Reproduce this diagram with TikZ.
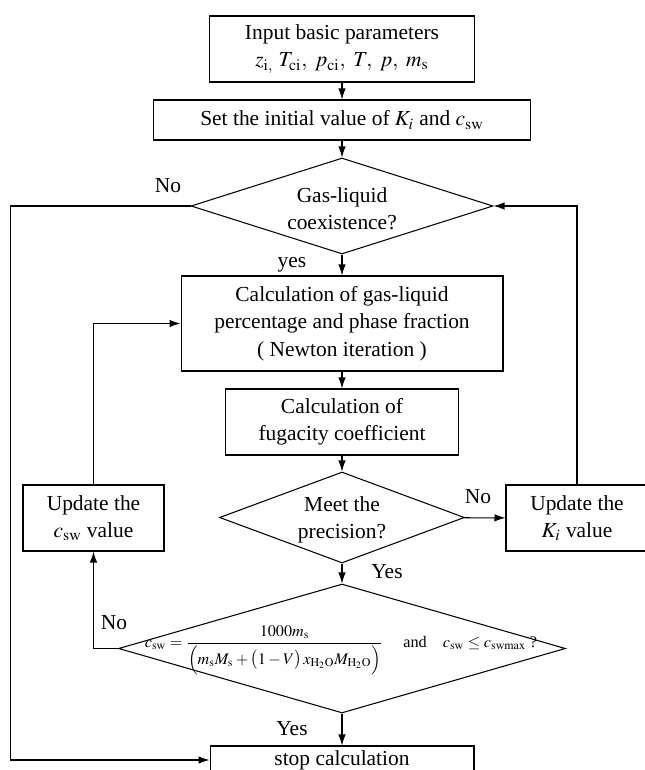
\documentclass[tikz,border=0pt]{standalone}
\usepackage{amsmath}
\usepackage{mathptmx}
\usepackage{fontspec}
\setmainfont{Liberation Serif}
\usetikzlibrary{shapes.geometric,arrows.meta}
\begin{document}
\begin{tikzpicture}[x=0.02cm,y=-0.02cm, line width=0.6pt,
  font=\fontsize{12.2}{15.5}\selectfont,
  box/.style={draw, rectangle, inner sep=0pt, align=center},
  dia/.style={draw, diamond, inner sep=0pt},
  arr/.style={-{Latex[length=2.2mm,width=1.5mm]}},
  lbl/.style={inner sep=1pt}]
\useasboundingbox (0,0) rectangle (645,770);
\clip (0,0) rectangle (645,770);

\node[box, minimum width=5.3cm, minimum height=1.32cm] (b1) at (342,49)
  {Input basic parameters\\ $z_{\mathrm{i,}}\ T_{\mathrm{ci}},\ p_{\mathrm{ci}},\ T,\ p,\ m_{\mathrm{s}}$};
\node[box, minimum width=7.56cm, minimum height=0.8cm] (b2) at (342,120)
  {Set the initial value of $K_i$ and $c_{\mathrm{sw}}$};
\node[dia, minimum width=6.04cm, minimum height=1.92cm] (d1) at (342,206) {};
\node[align=center] (t1) at (342,209) {Gas-liquid\\coexistence?};
\node[box, minimum width=6.44cm, minimum height=1.9cm] (b3) at (342,323.5)
  {Calculation of gas-liquid\\percentage and phase fraction\\( Newton iteration )};
\node[box, minimum width=4.66cm, minimum height=1.32cm] (b4) at (342,422)
  {Calculation of\\fugacity coefficient};
\node[dia, minimum width=4.9cm, minimum height=1.82cm] (d2) at (342,517.5) {};
\node[align=center] (t2) at (342,520) {Meet the\\precision?};
\node[box, minimum width=2.82cm, minimum height=1.32cm] (uc) at (93.5,518)
  {Update the\\$c_{\mathrm{sw}}$ value};
\node[box, minimum width=2.84cm, minimum height=1.32cm] (uk) at (577,518)
  {Update the\\$K_i$ value};
\node[dia, minimum width=8.94cm, minimum height=2.58cm] (d3) at (342,648.5) {};
\node[inner sep=0pt, font=\fontsize{9.2}{11}\selectfont] (t3) at (341,650)
  {$c_{\mathrm{sw}}=\dfrac{1000m_{\mathrm{s}}}{\Bigl(m_{\mathrm{s}}M_{\mathrm{s}}+\bigl(1-V\bigr)\,x_{\mathrm{H_2O}}M_{\mathrm{H_2O}}\Bigr)}$\quad\ and\quad $c_{\mathrm{sw}}\le c_{\mathrm{swmax}}$ ?};
\node[box, minimum width=5.28cm, minimum height=0.56cm] (st) at (342,760) {stop calculation};

\draw[arr] (b1) -- (b2);
\draw[arr] (b2) -- (d1);
\draw[arr] (d1) -- (b3);
\draw[arr] (b3) -- (b4);
\draw[arr] (b4) -- (d2);
\draw[arr] (d2) -- (uk);
\draw[arr] (d2) -- (d3);
\draw[arr] (d3) -- (st);
\draw[arr] (d1.west) -- ++(-180,0) |- (st.west);
\draw[arr] (uk.north) |- (d1.east);
\draw[arr] (uc.north) |- (b3.west);
\draw[arr] (d3.west) -| (uc.south);

\node[lbl] (no1) at (168,186) {No};
\node[lbl] (yes1) at (292,265) {yes};
\node[lbl] (no2) at (478,497) {No};
\node[lbl] (yes2) at (387,572) {Yes};
\node[lbl] (no3) at (114,623) {No};
\node[lbl] (yes3) at (292,729) {Yes};
\end{tikzpicture}
\end{document}
